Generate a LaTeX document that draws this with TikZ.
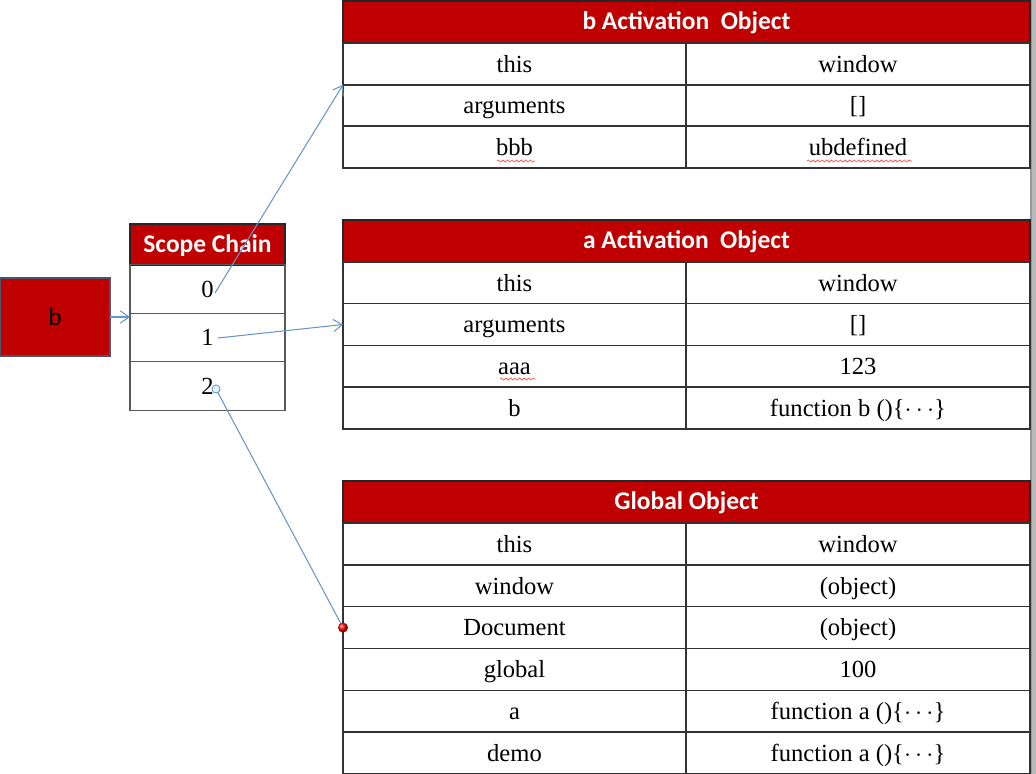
\documentclass[tikz,border=0pt]{standalone}
\usepackage{fontspec}
\setmainfont{Liberation Serif}
\newfontfamily\hdrfont{Carlito}
\usetikzlibrary{arrows.meta,calc,decorations.pathmorphing}
\definecolor{hdrred}{RGB}{192,0,0}
\definecolor{linkblue}{RGB}{105,150,200}
\definecolor{boxedge}{RGB}{75,85,105}
\tikzset{
  cw/.style={minimum width=#1*0.02cm},
  ch/.style={minimum height=#1*0.02cm},
  hdr/.style={draw=black!85, fill=hdrred, text=white, line width=0.8pt, inner sep=0pt, outer sep=0pt,
    text height=12pt, text depth=3pt,
    font=\hdrfont\bfseries\fontsize{14.5}{16}\selectfont},
  cell/.style={draw=black!80, line width=0.8pt, inner sep=0pt, outer sep=0pt,
    text height=12.5pt, text depth=3pt,
    font=\fontsize{14}{16}\selectfont},
  scell/.style={draw=black!65, line width=0.8pt, inner sep=0pt, outer sep=0pt, cw=155, ch=48.5,
    text height=12.5pt, text depth=3pt,
    font=\fontsize{14}{16}\selectfont},
  conn/.style={draw=linkblue, line width=0.6pt, -{Straight Barb[length=5pt,width=7pt]}},
  spell/.style={draw=red!75, line width=0.35pt, decorate,
    decoration={snake, amplitude=0.6pt, segment length=2.6pt}},
}
\begin{document}
\begin{tikzpicture}[x=0.02cm,y=-0.02cm]
\useasboundingbox (0,0) rectangle (1036,774);
\fill[white] (0,0) rectangle (1036,774);
% right page shadow
\fill[gray!55] (1031,0) rectangle (1036,774);
\draw[gray!80, line width=0.6pt] (1031,0) -- (1031,774);

% ---------- b Activation Object ----------
\node[hdr, cw=687, ch=42] (bh) at (686.5,22) {b Activation\ \ Object};
\node[cell, cw=343, ch=41.7] (bthis) at (514.5,64) {this};
\node[cell, cw=344, ch=41.7] (bthisv) at (858,64) {window};
\node[cell, cw=343, ch=41.7] (bargs) at (514.5,105.5) {arguments};
\node[cell, cw=344, ch=41.7] (bargsv) at (858,105.5) {[]};
\node[cell, cw=343, ch=41.7] (bbbb) at (514.5,147) {bbb};
\node[cell, cw=344, ch=41.7] (bbbbv) at (858,147) {ubdefined};
\draw[spell] (497,161) -- (535,161);
\draw[spell] (807,161) -- (912,161);

% ---------- a Activation Object ----------
\node[hdr, cw=687, ch=42] (ah) at (686.5,241) {a Activation\ \ Object};
\node[cell, cw=343, ch=41.75] (athis) at (514.5,282.8) {this};
\node[cell, cw=344, ch=41.75] (athisv) at (858,282.8) {window};
\node[cell, cw=343, ch=41.75] (aargs) at (514.5,324.5) {arguments};
\node[cell, cw=344, ch=41.75] (aargsv) at (858,324.5) {[]};
\node[cell, cw=343, ch=41.75] (aaaa) at (514.5,366.2) {aaa};
\node[cell, cw=344, ch=41.75] (aaaav) at (858,366.2) {123};
\node[cell, cw=343, ch=41.75] (ab) at (514.5,408) {b};
\node[cell, cw=344, ch=41.75] (abv) at (858,408) {function b ()\{$\cdots$\}};
\draw[spell] (500,379) -- (535,379);

% ---------- Global Object ----------
\node[hdr, cw=687, ch=42] (gh) at (686.5,502) {Global Object};
\node[cell, cw=343, ch=41.85] (gthis) at (514.5,543.9) {this};
\node[cell, cw=344, ch=41.85] (gthisv) at (858,543.9) {window};
\node[cell, cw=343, ch=41.85] (gwin) at (514.5,585.8) {window};
\node[cell, cw=344, ch=41.85] (gwinv) at (858,585.8) {(object)};
\node[cell, cw=343, ch=41.85] (gdoc) at (514.5,627.6) {Document};
\node[cell, cw=344, ch=41.85] (gdocv) at (858,627.6) {(object)};
\node[cell, cw=343, ch=41.85] (gglob) at (514.5,669.5) {global};
\node[cell, cw=344, ch=41.85] (gglobv) at (858,669.5) {100};
\node[cell, cw=343, ch=41.85] (ga) at (514.5,711.3) {a};
\node[cell, cw=344, ch=41.85] (gav) at (858,711.3) {function a ()\{$\cdots$\}};
\node[cell, cw=343, ch=41.85] (gdemo) at (514.5,753.1) {demo};
\node[cell, cw=344, ch=41.85] (gdemov) at (858,753.1) {function a ()\{$\cdots$\}};

% ---------- Scope Chain ----------
\node[hdr, cw=155, ch=41] (sh) at (207.5,244.5) {Scope Chain};
\node[scell] (s0) at (207.5,289) {0};
\node[scell] (s1) at (207.5,337.5) {1};
\node[scell] (s2) at (207.5,386) {2};

% ---------- b box ----------
\node[draw=boxedge, fill=hdrred, line width=0.6pt, cw=110, ch=78, inner sep=0pt, outer sep=0pt,
  font=\hdrfont\fontsize{14.5}{16}\selectfont] (bbox) at (55,317) {b};

% ---------- connectors ----------
\coordinate (c0) at ($(s0.center)+(7.5,4)$);
\coordinate (c1) at ($(s1.center)+(10.5,0.5)$);
\coordinate (c2) at ($(s2.center)+(8.5,3)$);
\draw[conn] (c0) -- (bthis.south west);
\draw[conn] (bbox.east) -- (bbox.east -| s1.west);
\draw[conn] (c1) -- (aargs.west);
\draw[draw=linkblue, line width=0.6pt] (c2) -- (gdoc.west);
\fill[cyan!10] (c2) circle[radius=4];
\draw[linkblue, line width=0.5pt] (c2) circle[radius=4];
\shade[ball color=red] (gdoc.west) circle[radius=5];
\end{tikzpicture}
\end{document}
